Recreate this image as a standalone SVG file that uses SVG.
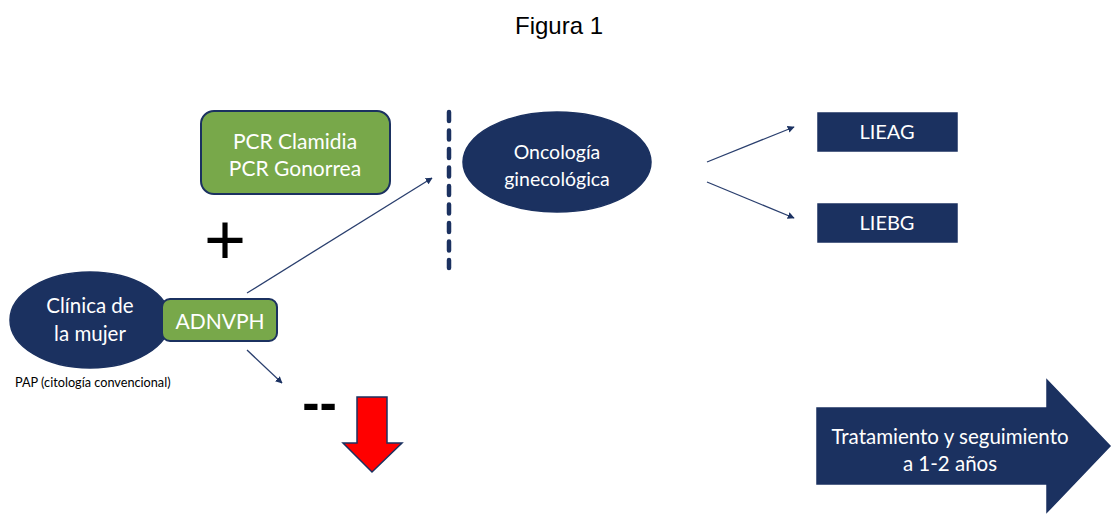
<svg xmlns="http://www.w3.org/2000/svg" width="1112" height="515" viewBox="0 0 1112 515">
<defs>
<marker id="ah" viewBox="0 0 10 10" refX="9" refY="5" markerWidth="7" markerHeight="7" markerUnits="userSpaceOnUse" orient="auto">
<path d="M0,0 L10,5 L0,10 z" fill="#1c3262"/>
</marker>
<style>
.navy{fill:#1b3160;stroke:#1b3160;stroke-width:1.5}
.green{fill:#78a84a;stroke:#1b3160;stroke-width:2}
.lbl{font-family:Lato,"Open Sans",sans-serif;fill:#ffffff;text-anchor:middle}
.conn{stroke:#2a3f6e;stroke-width:1.3;fill:none;marker-end:url(#ah)}
</style>
</defs>
<rect width="1112" height="515" fill="#ffffff"/>
<text x="559" y="34" font-family="Liberation Sans, Arial, sans-serif" font-size="24" text-anchor="middle" fill="#000">Figura 1</text>

<g id="connectors">
<line class="conn" x1="247" y1="293" x2="432" y2="178"/>
<line class="conn" x1="247" y1="350" x2="282" y2="383"/>
<line class="conn" x1="707" y1="162" x2="794" y2="127"/>
<line class="conn" x1="707" y1="182" x2="794" y2="218"/>
<line x1="449" y1="112" x2="449" y2="268" stroke="#1b3160" stroke-width="4.5" stroke-linecap="round" stroke-dasharray="9 9.5"/>
</g>

<g id="pcr">
<rect class="green" x="201" y="111" width="189" height="83" rx="13"/>
<text class="lbl" x="295" y="149" font-size="21">PCR Clamidia</text>
<text class="lbl" x="295" y="176" font-size="21">PCR Gonorrea</text>
</g>

<g id="plus">
<text x="225" y="264" font-family="Liberation Sans, Arial, sans-serif" font-size="72" text-anchor="middle" fill="#000">+</text>
</g>

<g id="oncologia">
<ellipse class="navy" cx="557" cy="162" rx="94" ry="50"/>
<text class="lbl" x="557" y="159" font-size="19.5">Oncología</text>
<text class="lbl" x="557" y="186" font-size="19.5">ginecológica</text>
</g>

<g id="lieag">
<rect class="navy" x="818" y="113" width="139" height="38"/>
<text class="lbl" x="887" y="139" font-size="20">LIEAG</text>
</g>

<g id="liebg">
<rect class="navy" x="818" y="204" width="139" height="38"/>
<text class="lbl" x="887" y="230" font-size="20">LIEBG</text>
</g>

<g id="clinica">
<ellipse class="navy" cx="90" cy="320" rx="80" ry="48"/>
<text class="lbl" x="90" y="313" font-size="20.5">Clínica de</text>
<text class="lbl" x="90" y="341" font-size="20.5">la mujer</text>
</g>

<g id="adnvph">
<rect class="green" x="162" y="299" width="115" height="42" rx="8"/>
<text class="lbl" x="220" y="329" font-size="21">ADNVPH</text>
</g>

<g id="pap">
<text x="15" y="387" font-family="Lato,'Open Sans',sans-serif" font-size="12.7" fill="#000">PAP (citología convencional)</text>
</g>

<g id="minus">
<text x="319.5" y="420" font-family="Liberation Sans, Arial, sans-serif" font-weight="bold" font-size="52" text-anchor="middle" fill="#000">--</text>
</g>

<g id="red-arrow">
<path d="M357,397 L387,397 L387,443 L402,443 L372,472 L343,443 L357,443 Z" fill="#ff0000" stroke="#1b3160" stroke-width="1.5" stroke-linejoin="miter"/>
</g>

<g id="tratamiento">
<path class="navy" d="M817,408 L1047,408 L1047,380 L1110,446 L1047,512 L1047,484 L817,484 Z"/>
<text class="lbl" x="950" y="444" font-size="20.5">Tratamiento y seguimiento</text>
<text class="lbl" x="950" y="471" font-size="20.5">a 1-2 años</text>
</g>
</svg>
